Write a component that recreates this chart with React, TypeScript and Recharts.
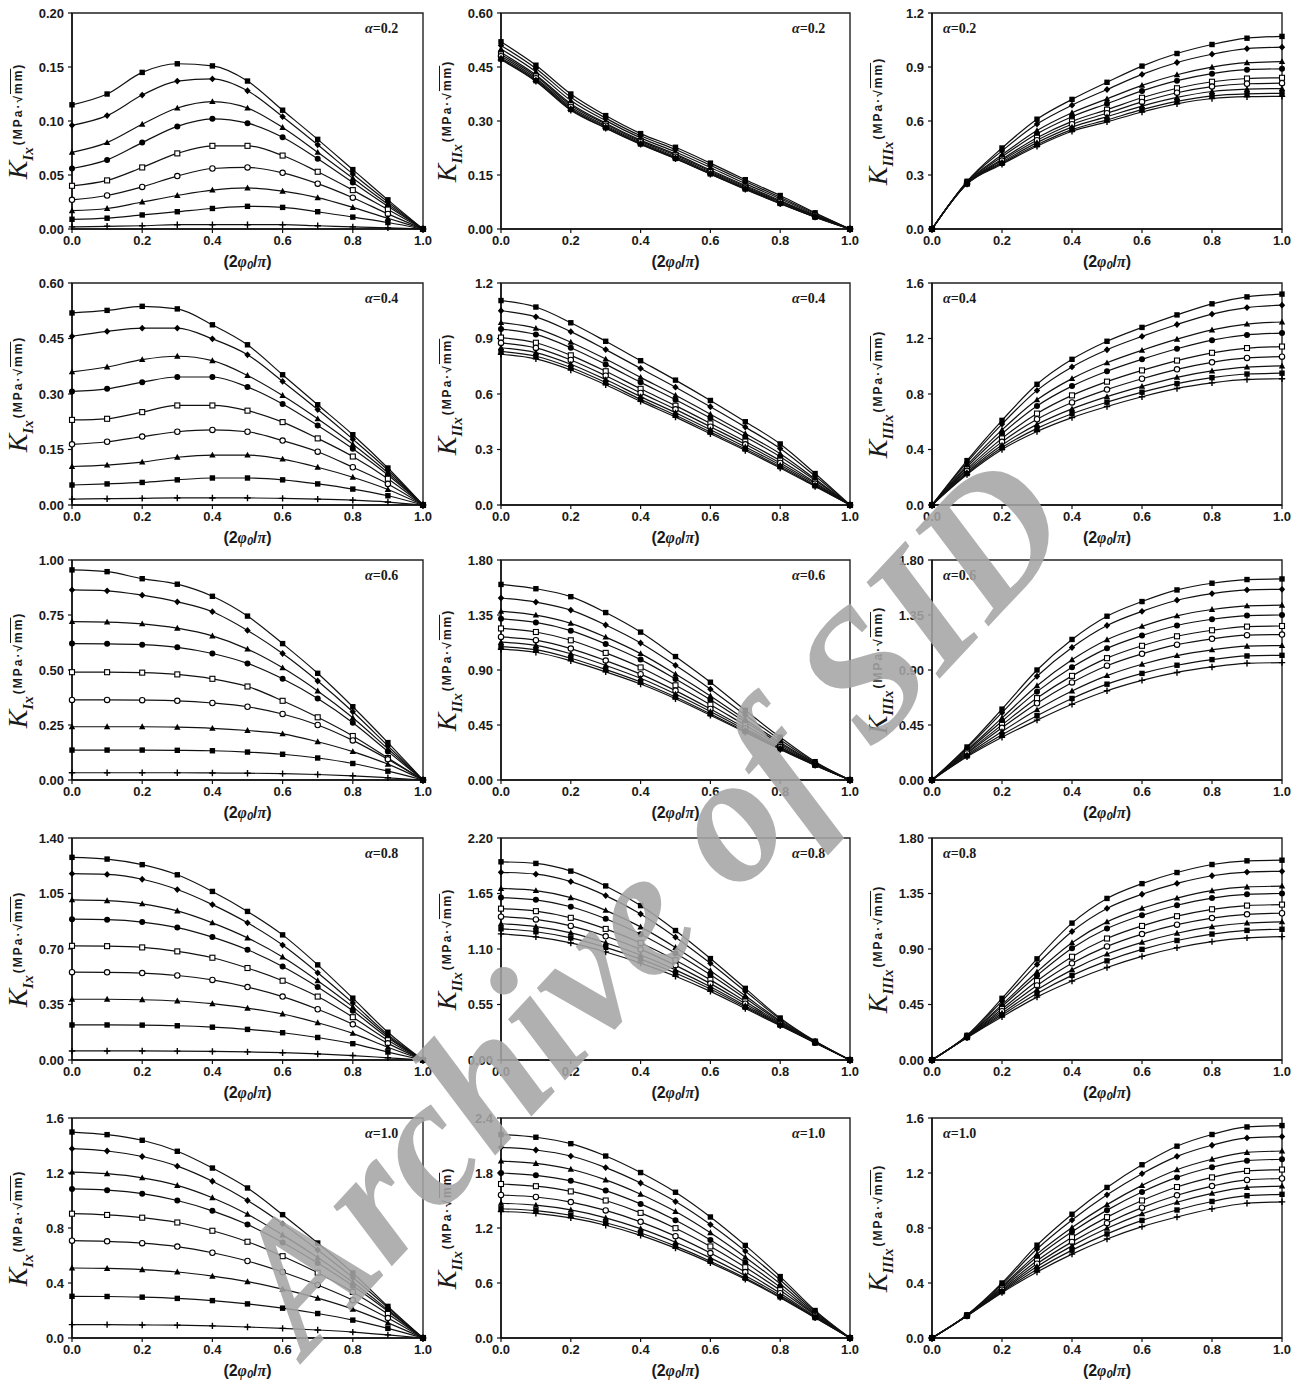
import React from 'react';
import { LineChart, Line, XAxis, YAxis, ReferenceArea } from 'recharts';

// common x positions (2φ0/π)
const X = [0, 0.1, 0.2, 0.3, 0.4, 0.5, 0.6, 0.7, 0.8, 0.9, 1.0];
const X_TICKS = [0, 0.2, 0.4, 0.6, 0.8, 1.0];

// K_I, K_II, K_III for each alpha, curves listed top to bottom
const KI_02 = [
  [0.115, 0.125, 0.145, 0.153, 0.151, 0.137, 0.11, 0.083, 0.055, 0.027, 0],
  [0.096, 0.105, 0.124, 0.137, 0.139, 0.128, 0.104, 0.078, 0.051, 0.025, 0],
  [0.071, 0.08, 0.097, 0.112, 0.118, 0.112, 0.094, 0.071, 0.047, 0.023, 0],
  [0.056, 0.064, 0.08, 0.095, 0.102, 0.098, 0.085, 0.065, 0.043, 0.021, 0],
  [0.04, 0.045, 0.057, 0.07, 0.077, 0.077, 0.068, 0.053, 0.036, 0.018, 0],
  [0.027, 0.031, 0.039, 0.049, 0.056, 0.057, 0.052, 0.042, 0.029, 0.014, 0],
  [0.017, 0.019, 0.025, 0.031, 0.036, 0.038, 0.035, 0.029, 0.02, 0.01, 0],
  [0.009, 0.01, 0.013, 0.016, 0.019, 0.021, 0.02, 0.016, 0.011, 0.006, 0],
  [0.002, 0.0025, 0.003, 0.004, 0.004, 0.004, 0.004, 0.003, 0.002, 0.001, 0],
];
const KII_02 = [
  [0.52, 0.455, 0.375, 0.315, 0.265, 0.227, 0.183, 0.137, 0.093, 0.045, 0],
  [0.51, 0.446, 0.366, 0.308, 0.259, 0.221, 0.177, 0.132, 0.088, 0.043, 0],
  [0.5, 0.437, 0.357, 0.301, 0.253, 0.214, 0.171, 0.126, 0.084, 0.04, 0],
  [0.49, 0.428, 0.348, 0.294, 0.247, 0.208, 0.164, 0.121, 0.079, 0.038, 0],
  [0.485, 0.424, 0.344, 0.291, 0.244, 0.205, 0.161, 0.118, 0.077, 0.037, 0],
  [0.48, 0.419, 0.339, 0.287, 0.241, 0.201, 0.158, 0.115, 0.075, 0.035, 0],
  [0.475, 0.415, 0.335, 0.284, 0.238, 0.198, 0.155, 0.113, 0.072, 0.034, 0],
  [0.472, 0.412, 0.332, 0.281, 0.236, 0.196, 0.153, 0.111, 0.071, 0.033, 0],
  [0.47, 0.41, 0.33, 0.28, 0.235, 0.195, 0.152, 0.11, 0.07, 0.033, 0],
];
const KIII_02 = [
  [0, 0.265, 0.45, 0.61, 0.72, 0.815, 0.905, 0.975, 1.025, 1.06, 1.07],
  [0, 0.262, 0.434, 0.583, 0.688, 0.775, 0.859, 0.925, 0.971, 1.002, 1.01],
  [0, 0.259, 0.412, 0.547, 0.646, 0.723, 0.798, 0.857, 0.899, 0.924, 0.93],
  [0, 0.257, 0.401, 0.529, 0.624, 0.696, 0.767, 0.824, 0.863, 0.885, 0.89],
  [0, 0.255, 0.388, 0.507, 0.598, 0.663, 0.729, 0.782, 0.818, 0.836, 0.84],
  [0, 0.253, 0.38, 0.493, 0.582, 0.643, 0.706, 0.757, 0.791, 0.807, 0.81],
  [0, 0.252, 0.372, 0.48, 0.566, 0.624, 0.683, 0.731, 0.764, 0.777, 0.78],
  [0, 0.251, 0.365, 0.468, 0.552, 0.606, 0.663, 0.709, 0.74, 0.751, 0.754],
  [0, 0.25, 0.36, 0.46, 0.543, 0.595, 0.65, 0.695, 0.725, 0.735, 0.737],
];

const KI_04 = [
  [0.519, 0.526, 0.537, 0.53, 0.487, 0.433, 0.352, 0.271, 0.19, 0.1, 0],
  [0.456, 0.469, 0.478, 0.478, 0.449, 0.406, 0.334, 0.258, 0.178, 0.094, 0],
  [0.36, 0.373, 0.393, 0.402, 0.39, 0.35, 0.296, 0.233, 0.164, 0.087, 0],
  [0.307, 0.314, 0.332, 0.346, 0.346, 0.319, 0.273, 0.215, 0.152, 0.081, 0],
  [0.23, 0.233, 0.251, 0.269, 0.269, 0.255, 0.224, 0.18, 0.131, 0.071, 0],
  [0.164, 0.171, 0.185, 0.198, 0.203, 0.198, 0.174, 0.144, 0.102, 0.057, 0],
  [0.104, 0.108, 0.116, 0.129, 0.135, 0.135, 0.124, 0.102, 0.075, 0.042, 0],
  [0.054, 0.057, 0.061, 0.068, 0.073, 0.073, 0.068, 0.057, 0.043, 0.025, 0],
  [0.016, 0.017, 0.018, 0.019, 0.019, 0.019, 0.018, 0.016, 0.013, 0.008, 0],
];
const KII_04 = [
  [1.105, 1.07, 0.985, 0.885, 0.78, 0.675, 0.565, 0.45, 0.33, 0.17, 0],
  [1.05, 1.017, 0.937, 0.84, 0.738, 0.637, 0.531, 0.421, 0.305, 0.157, 0],
  [0.986, 0.955, 0.88, 0.789, 0.69, 0.593, 0.491, 0.386, 0.277, 0.141, 0],
  [0.951, 0.922, 0.85, 0.76, 0.663, 0.569, 0.47, 0.368, 0.261, 0.133, 0],
  [0.905, 0.877, 0.809, 0.723, 0.628, 0.537, 0.441, 0.343, 0.24, 0.122, 0],
  [0.876, 0.849, 0.784, 0.699, 0.606, 0.517, 0.423, 0.328, 0.227, 0.115, 0],
  [0.85, 0.824, 0.761, 0.678, 0.586, 0.499, 0.407, 0.314, 0.216, 0.108, 0],
  [0.83, 0.804, 0.743, 0.662, 0.571, 0.485, 0.394, 0.303, 0.207, 0.104, 0],
  [0.815, 0.79, 0.73, 0.65, 0.56, 0.475, 0.385, 0.295, 0.2, 0.1, 0],
];
const KIII_04 = [
  [0, 0.32, 0.61, 0.87, 1.05, 1.18, 1.28, 1.37, 1.45, 1.5, 1.52],
  [0, 0.307, 0.583, 0.826, 0.995, 1.119, 1.215, 1.301, 1.376, 1.423, 1.44],
  [0, 0.287, 0.541, 0.758, 0.911, 1.025, 1.115, 1.195, 1.262, 1.304, 1.319],
  [0, 0.274, 0.513, 0.714, 0.857, 0.964, 1.05, 1.126, 1.188, 1.226, 1.239],
  [0, 0.258, 0.48, 0.659, 0.79, 0.889, 0.97, 1.041, 1.097, 1.131, 1.142],
  [0, 0.246, 0.455, 0.618, 0.739, 0.832, 0.91, 0.978, 1.028, 1.06, 1.069],
  [0, 0.235, 0.432, 0.581, 0.693, 0.781, 0.855, 0.92, 0.966, 0.994, 1.002],
  [0, 0.227, 0.414, 0.552, 0.658, 0.741, 0.813, 0.875, 0.918, 0.944, 0.95],
  [0, 0.22, 0.4, 0.53, 0.63, 0.71, 0.78, 0.84, 0.88, 0.905, 0.91],
];

const KI_06 = [
  [0.955, 0.947, 0.915, 0.89, 0.835, 0.745, 0.62, 0.485, 0.333, 0.17, 0],
  [0.864, 0.86, 0.84, 0.81, 0.765, 0.68, 0.575, 0.45, 0.31, 0.155, 0],
  [0.72, 0.718, 0.71, 0.69, 0.655, 0.595, 0.51, 0.405, 0.283, 0.142, 0],
  [0.62, 0.619, 0.615, 0.603, 0.575, 0.53, 0.46, 0.37, 0.26, 0.13, 0],
  [0.49, 0.49, 0.488, 0.48, 0.46, 0.425, 0.36, 0.285, 0.2, 0.1, 0],
  [0.364, 0.364, 0.363, 0.36, 0.35, 0.333, 0.3, 0.25, 0.18, 0.094, 0],
  [0.242, 0.242, 0.242, 0.24, 0.235, 0.225, 0.21, 0.174, 0.129, 0.072, 0],
  [0.136, 0.136, 0.136, 0.135, 0.133, 0.127, 0.117, 0.1, 0.075, 0.04, 0],
  [0.033, 0.033, 0.033, 0.033, 0.032, 0.031, 0.029, 0.025, 0.019, 0.01, 0],
];
const KII_06 = [
  [1.6, 1.565, 1.5, 1.37, 1.21, 1.01, 0.8, 0.57, 0.35, 0.15, 0],
  [1.489, 1.456, 1.39, 1.268, 1.121, 0.938, 0.743, 0.532, 0.329, 0.144, 0],
  [1.38, 1.349, 1.282, 1.169, 1.034, 0.867, 0.688, 0.495, 0.309, 0.138, 0],
  [1.319, 1.289, 1.222, 1.113, 0.985, 0.827, 0.657, 0.475, 0.297, 0.134, 0],
  [1.24, 1.211, 1.143, 1.04, 0.921, 0.775, 0.616, 0.448, 0.282, 0.13, 0],
  [1.171, 1.144, 1.075, 0.977, 0.866, 0.731, 0.581, 0.424, 0.269, 0.126, 0],
  [1.128, 1.102, 1.033, 0.938, 0.832, 0.703, 0.56, 0.41, 0.261, 0.123, 0],
  [1.091, 1.066, 0.996, 0.904, 0.802, 0.679, 0.541, 0.397, 0.254, 0.121, 0],
  [1.07, 1.045, 0.975, 0.885, 0.785, 0.665, 0.53, 0.39, 0.25, 0.12, 0],
];
const KIII_06 = [
  [0, 0.27, 0.58, 0.9, 1.15, 1.34, 1.46, 1.555, 1.61, 1.64, 1.645],
  [0, 0.26, 0.551, 0.849, 1.084, 1.264, 1.38, 1.471, 1.525, 1.555, 1.56],
  [0, 0.245, 0.508, 0.771, 0.984, 1.148, 1.257, 1.343, 1.395, 1.425, 1.43],
  [0, 0.236, 0.481, 0.723, 0.922, 1.077, 1.182, 1.264, 1.315, 1.345, 1.35],
  [0, 0.225, 0.451, 0.67, 0.852, 0.997, 1.098, 1.176, 1.225, 1.255, 1.26],
  [0, 0.217, 0.427, 0.628, 0.798, 0.935, 1.032, 1.107, 1.155, 1.185, 1.19],
  [0, 0.206, 0.397, 0.574, 0.728, 0.854, 0.947, 1.018, 1.065, 1.095, 1.1],
  [0, 0.197, 0.37, 0.526, 0.667, 0.784, 0.872, 0.939, 0.985, 1.015, 1.02],
  [0, 0.19, 0.35, 0.49, 0.62, 0.73, 0.815, 0.88, 0.925, 0.955, 0.96],
];

const KI_08 = [
  [1.278, 1.267, 1.232, 1.168, 1.063, 0.937, 0.789, 0.6, 0.39, 0.175, 0],
  [1.175, 1.17, 1.14, 1.075, 0.98, 0.865, 0.725, 0.55, 0.36, 0.16, 0],
  [1.01, 1.005, 0.985, 0.94, 0.865, 0.77, 0.65, 0.5, 0.335, 0.15, 0],
  [0.888, 0.885, 0.87, 0.835, 0.775, 0.695, 0.59, 0.46, 0.31, 0.14, 0],
  [0.72, 0.718, 0.71, 0.685, 0.645, 0.58, 0.5, 0.4, 0.27, 0.125, 0],
  [0.554, 0.553, 0.548, 0.533, 0.505, 0.46, 0.4, 0.32, 0.225, 0.105, 0],
  [0.383, 0.383, 0.38, 0.372, 0.355, 0.327, 0.29, 0.235, 0.168, 0.08, 0],
  [0.221, 0.221, 0.22, 0.216, 0.207, 0.193, 0.172, 0.142, 0.103, 0.05, 0],
  [0.057, 0.057, 0.057, 0.056, 0.054, 0.051, 0.046, 0.038, 0.028, 0.014, 0],
];
const KII_08 = [
  [1.964, 1.948, 1.872, 1.725, 1.53, 1.283, 1.005, 0.71, 0.416, 0.187, 0],
  [1.86, 1.842, 1.768, 1.629, 1.447, 1.217, 0.958, 0.681, 0.405, 0.185, 0],
  [1.7, 1.679, 1.609, 1.483, 1.319, 1.115, 0.885, 0.636, 0.388, 0.181, 0],
  [1.61, 1.587, 1.519, 1.4, 1.247, 1.058, 0.844, 0.611, 0.378, 0.179, 0],
  [1.5, 1.475, 1.409, 1.299, 1.16, 0.989, 0.794, 0.58, 0.367, 0.176, 0],
  [1.42, 1.393, 1.329, 1.226, 1.096, 0.938, 0.757, 0.558, 0.358, 0.174, 0],
  [1.35, 1.322, 1.26, 1.162, 1.04, 0.893, 0.726, 0.538, 0.351, 0.172, 0],
  [1.3, 1.271, 1.21, 1.116, 1.0, 0.862, 0.703, 0.524, 0.345, 0.171, 0],
  [1.25, 1.22, 1.16, 1.07, 0.96, 0.83, 0.68, 0.51, 0.34, 0.17, 0],
];
const KIII_08 = [
  [0, 0.2, 0.5, 0.82, 1.11, 1.31, 1.43, 1.52, 1.585, 1.615, 1.62],
  [0, 0.197, 0.478, 0.775, 1.042, 1.229, 1.344, 1.432, 1.494, 1.524, 1.53],
  [0, 0.193, 0.449, 0.715, 0.951, 1.12, 1.23, 1.313, 1.373, 1.403, 1.41],
  [0, 0.191, 0.435, 0.685, 0.906, 1.066, 1.173, 1.255, 1.313, 1.343, 1.35],
  [0, 0.188, 0.413, 0.64, 0.837, 0.985, 1.087, 1.166, 1.222, 1.252, 1.26],
  [0, 0.186, 0.396, 0.605, 0.784, 0.921, 1.021, 1.097, 1.151, 1.181, 1.19],
  [0, 0.184, 0.379, 0.57, 0.731, 0.859, 0.954, 1.028, 1.081, 1.111, 1.12],
  [0, 0.182, 0.365, 0.54, 0.686, 0.804, 0.897, 0.969, 1.021, 1.051, 1.06],
  [0, 0.18, 0.35, 0.51, 0.64, 0.75, 0.84, 0.91, 0.96, 0.99, 1.0],
];

const KI_10 = [
  [1.498, 1.479, 1.438, 1.358, 1.236, 1.091, 0.897, 0.691, 0.473, 0.23, 0],
  [1.377, 1.36, 1.32, 1.25, 1.14, 1.0, 0.83, 0.64, 0.44, 0.22, 0],
  [1.207, 1.195, 1.165, 1.11, 1.02, 0.9, 0.75, 0.585, 0.405, 0.205, 0],
  [1.084, 1.075, 1.05, 1.0, 0.925, 0.825, 0.695, 0.545, 0.38, 0.195, 0],
  [0.904, 0.895, 0.875, 0.84, 0.78, 0.7, 0.595, 0.475, 0.335, 0.175, 0],
  [0.708, 0.703, 0.69, 0.665, 0.62, 0.56, 0.48, 0.385, 0.275, 0.145, 0],
  [0.509, 0.506, 0.497, 0.48, 0.45, 0.41, 0.355, 0.29, 0.21, 0.11, 0],
  [0.303, 0.302, 0.297, 0.288, 0.272, 0.248, 0.217, 0.178, 0.13, 0.07, 0],
  [0.097, 0.097, 0.095, 0.093, 0.088, 0.08, 0.07, 0.058, 0.043, 0.023, 0],
];
const KII_10 = [
  [2.22, 2.19, 2.12, 1.985, 1.805, 1.59, 1.32, 1.01, 0.67, 0.3, 0],
  [2.08, 2.051, 1.985, 1.859, 1.691, 1.488, 1.237, 0.948, 0.632, 0.287, 0],
  [1.93, 1.904, 1.841, 1.725, 1.569, 1.38, 1.148, 0.882, 0.591, 0.272, 0],
  [1.8, 1.775, 1.715, 1.608, 1.463, 1.285, 1.07, 0.825, 0.555, 0.26, 0],
  [1.68, 1.656, 1.599, 1.5, 1.365, 1.198, 0.999, 0.772, 0.522, 0.249, 0],
  [1.56, 1.538, 1.483, 1.392, 1.267, 1.111, 0.927, 0.719, 0.489, 0.237, 0],
  [1.47, 1.449, 1.397, 1.311, 1.193, 1.045, 0.874, 0.68, 0.465, 0.229, 0],
  [1.41, 1.39, 1.339, 1.257, 1.145, 1.002, 0.838, 0.653, 0.448, 0.223, 0],
  [1.38, 1.36, 1.31, 1.23, 1.12, 0.98, 0.82, 0.64, 0.44, 0.22, 0],
];
const KIII_10 = [
  [0, 0.168, 0.4, 0.675, 0.9, 1.095, 1.26, 1.395, 1.48, 1.535, 1.545],
  [0, 0.167, 0.39, 0.647, 0.858, 1.041, 1.195, 1.321, 1.402, 1.455, 1.465],
  [0, 0.165, 0.377, 0.61, 0.803, 0.97, 1.11, 1.224, 1.3, 1.35, 1.36],
  [0, 0.164, 0.369, 0.589, 0.772, 0.93, 1.062, 1.168, 1.242, 1.29, 1.3],
  [0, 0.163, 0.36, 0.562, 0.733, 0.879, 1.0, 1.098, 1.168, 1.215, 1.225],
  [0, 0.162, 0.351, 0.54, 0.699, 0.835, 0.948, 1.038, 1.105, 1.15, 1.16],
  [0, 0.162, 0.344, 0.52, 0.67, 0.798, 0.903, 0.987, 1.052, 1.095, 1.105],
  [0, 0.161, 0.337, 0.499, 0.639, 0.757, 0.855, 0.931, 0.993, 1.035, 1.045],
  [0, 0.16, 0.33, 0.48, 0.61, 0.72, 0.81, 0.88, 0.94, 0.98, 0.99],
];

// y tick sets
const T_020 = [0, 0.05, 0.1, 0.15, 0.2];
const T_060 = [0, 0.15, 0.3, 0.45, 0.6];
const T_12 = [0, 0.3, 0.6, 0.9, 1.2];
const T_16 = [0, 0.4, 0.8, 1.2, 1.6];
const T_100 = [0, 0.25, 0.5, 0.75, 1.0];
const T_180 = [0, 0.45, 0.9, 1.35, 1.8];
const T_140 = [0, 0.35, 0.7, 1.05, 1.4];
const T_220 = [0, 0.55, 1.1, 1.65, 2.2];
const T_24 = [0, 0.6, 1.2, 1.8, 2.4];

const ALPHAS = ['0.2', '0.4', '0.6', '0.8', '1.0'];
const MODES = ['I', 'II', 'III'];

// marker per curve, top to bottom
const SHAPES = ['square', 'diamond', 'triangle', 'circle', 'openSquare', 'openCircle', 'triangle', 'square', 'plus'];

// plot area edges in page pixels
const COL_L = [72, 501, 932];
const COL_R = [423, 850, 1282];
const ROW_T = [13, 283, 560, 838, 1118];
const ROW_B = [229, 505, 780, 1060, 1338];

const PANELS = [
  [{ c: KI_02, t: T_020, d: 2 }, { c: KII_02, t: T_060, d: 2 }, { c: KIII_02, t: T_12, d: 1 }],
  [{ c: KI_04, t: T_060, d: 2 }, { c: KII_04, t: T_12, d: 1 }, { c: KIII_04, t: T_16, d: 1 }],
  [{ c: KI_06, t: T_100, d: 2 }, { c: KII_06, t: T_180, d: 2 }, { c: KIII_06, t: T_180, d: 2 }],
  [{ c: KI_08, t: T_140, d: 2 }, { c: KII_08, t: T_220, d: 2 }, { c: KIII_08, t: T_180, d: 2 }],
  [{ c: KI_10, t: T_16, d: 1 }, { c: KII_10, t: T_24, d: 1 }, { c: KIII_10, t: T_16, d: 1 }],
];

const PAD_L = 50;
const PAD_T = 8;
const PAD_R = 16;
const PAD_B = 24;

const tickStyle = { fontSize: 13, fontWeight: 700, fill: '#1a1a1a', fontFamily: 'Liberation Sans, Arial, sans-serif' };

function mark(shape: string, props: any, key: string) {
  const { cx, cy } = props;
  if (cx == null || cy == null) return <g key={key} />;
  const s = 2.7;
  switch (shape) {
    case 'square':
      return <rect key={key} x={cx - s} y={cy - s} width={2 * s} height={2 * s} fill="#000" />;
    case 'diamond':
      return <polygon key={key} points={`${cx},${cy - 3.4} ${cx + 3.2},${cy} ${cx},${cy + 3.4} ${cx - 3.2},${cy}`} fill="#000" />;
    case 'triangle':
      return <polygon key={key} points={`${cx},${cy - 3.4} ${cx + 3.2},${cy + 2.5} ${cx - 3.2},${cy + 2.5}`} fill="#000" />;
    case 'circle':
      return <circle key={key} cx={cx} cy={cy} r={3} fill="#000" />;
    case 'openSquare':
      return <rect key={key} x={cx - 2.5} y={cy - 2.5} width={5} height={5} fill="#fff" stroke="#000" strokeWidth={1.1} />;
    case 'openCircle':
      return <circle key={key} cx={cx} cy={cy} r={2.7} fill="#fff" stroke="#000" strokeWidth={1.1} />;
    default:
      return <path key={key} d={`M${cx - 3.2},${cy}H${cx + 3.2}M${cx},${cy - 3.2}V${cy + 3.2}`} stroke="#000" strokeWidth={1.4} />;
  }
}

function Panel({ row, col }: { row: number; col: number }) {
  const p = PANELS[row][col];
  const L = COL_L[col], R = COL_R[col], T = ROW_T[row], B = ROW_B[row];
  const w = R - L + PAD_L + PAD_R;
  const h = B - T + PAD_T + PAD_B;
  const yMax = p.t[p.t.length - 1];
  const data = X.map((x, i) => {
    const r: any = { x };
    p.c.forEach((curve, k) => { r['c' + k] = curve[i]; });
    return r;
  });
  return (
    <div style={{ position: 'absolute', left: L - PAD_L, top: T - PAD_T }}>
      <LineChart width={w} height={h} data={data} margin={{ top: PAD_T, right: PAD_R, bottom: 0, left: 0 }}>
        <XAxis
          dataKey="x"
          type="number"
          domain={[0, 1]}
          ticks={X_TICKS}
          interval={0}
          tickFormatter={(v: number) => v.toFixed(1)}
          tick={tickStyle}
          tickSize={4}
          tickMargin={3}
          height={PAD_B}
          axisLine={{ stroke: '#111', strokeWidth: 1.5 }}
          tickLine={{ stroke: '#111', strokeWidth: 1.2 }}
        />
        <YAxis
          type="number"
          domain={[0, yMax]}
          ticks={p.t}
          interval={0}
          tickFormatter={(v: number) => v.toFixed(p.d)}
          tick={tickStyle}
          tickSize={4}
          tickMargin={4}
          width={PAD_L}
          axisLine={{ stroke: '#111', strokeWidth: 1.5 }}
          tickLine={{ stroke: '#111', strokeWidth: 1.2 }}
        />
        <ReferenceArea x1={0} x2={1} y1={0} y2={yMax} fill="none" stroke="#222" strokeWidth={1.4} />
        {p.c.map((_, k) => (
          <Line
            key={k}
            dataKey={'c' + k}
            type="monotone"
            stroke="#111"
            strokeWidth={1.2}
            isAnimationActive={false}
            activeDot={false}
            dot={(props: any) => mark(SHAPES[k], props, `m${k}-${props.index}`)}
          />
        ))}
      </LineChart>
    </div>
  );
}

function YLabel({ row, col }: { row: number; col: number }) {
  const cy = (ROW_T[row] + ROW_B[row]) / 2;
  return (
    <div
      style={{
        position: 'absolute',
        left: COL_L[col] - 54,
        top: cy,
        transform: 'translate(-50%, -50%) rotate(-90deg)',
        whiteSpace: 'nowrap',
        color: '#1a1a1a',
        lineHeight: 1,
      }}
    >
      <span style={{ fontFamily: 'Liberation Serif, serif', fontStyle: 'italic', fontSize: 28 }}>K</span>
      <span style={{ fontFamily: 'Liberation Serif, serif', fontStyle: 'italic', fontWeight: 700, fontSize: 15, position: 'relative', top: 6 }}>
        {MODES[col]}x
      </span>
      <span style={{ fontFamily: 'Liberation Sans, Arial, sans-serif', fontWeight: 700, fontSize: 12, letterSpacing: 2, position: 'relative', top: -5, marginLeft: 2 }}>
        (MPa·√<span style={{ textDecoration: 'overline' }}>mm</span>)
      </span>
    </div>
  );
}

function XTitle({ row, col }: { row: number; col: number }) {
  const cx = (COL_L[col] + COL_R[col]) / 2;
  return (
    <div
      style={{
        position: 'absolute',
        left: cx,
        top: ROW_B[row] + 33,
        transform: 'translate(-50%, -50%)',
        whiteSpace: 'nowrap',
        fontFamily: 'Liberation Sans, Arial, sans-serif',
        fontWeight: 700,
        fontSize: 16,
        color: '#1a1a1a',
        lineHeight: 1,
      }}
    >
      (2<span style={{ fontFamily: 'Liberation Serif, serif', fontStyle: 'italic' }}>φ</span>
      <sub style={{ fontSize: 11, fontStyle: 'italic', verticalAlign: -2 }}>0</sub>/
      <span style={{ fontFamily: 'Liberation Serif, serif', fontStyle: 'italic' }}>π</span>)
    </div>
  );
}

function AlphaTag({ row, col }: { row: number; col: number }) {
  const style: any = {
    position: 'absolute',
    top: ROW_T[row] + 9,
    fontFamily: 'Liberation Serif, serif',
    fontWeight: 700,
    fontSize: 14,
    color: '#1a1a1a',
    whiteSpace: 'nowrap',
    lineHeight: 1,
  };
  if (col === 2) style.left = COL_L[col] + 11;
  else style.left = COL_R[col] - 58;
  return (
    <div style={style}>
      <i>α</i>=<span>{ALPHAS[row]}</span>
    </div>
  );
}

export default function App() {
  const cells: [number, number][] = [];
  for (let r = 0; r < 5; r++) for (let c = 0; c < 3; c++) cells.push([r, c]);
  return (
    <div style={{ position: 'absolute', left: 0, top: 0, width: 1305, height: 1393, background: '#fff', overflow: 'hidden' }}>
      {cells.map(([r, c]) => (
        <React.Fragment key={`${r}-${c}`}>
          <Panel row={r} col={c} />
          <YLabel row={r} col={c} />
          <XTitle row={r} col={c} />
          <AlphaTag row={r} col={c} />
        </React.Fragment>
      ))}
      <div
        style={{
          position: 'absolute',
          left: 648,
          top: 902,
          transform: 'translate(-50%, -50%) rotate(-47deg)',
          fontFamily: 'Liberation Serif, serif',
          fontWeight: 700,
          fontStyle: 'italic',
          fontSize: 182,
          color: 'rgba(165,165,165,0.88)',
          whiteSpace: 'nowrap',
          lineHeight: 1,
          pointerEvents: 'none',
        }}
      >
        Archive of SID
      </div>
    </div>
  );
}
